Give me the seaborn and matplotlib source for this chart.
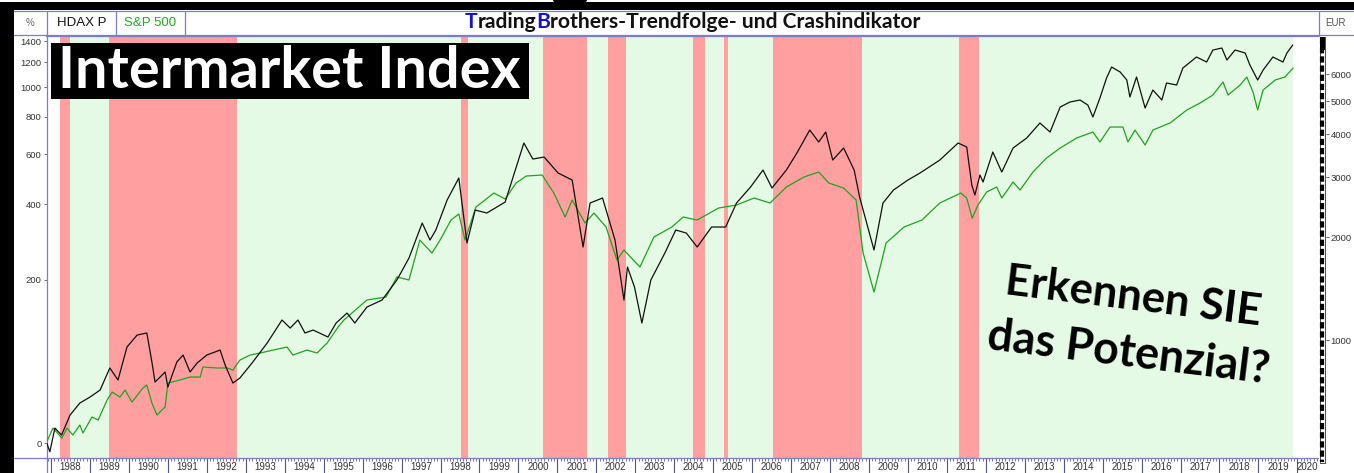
import numpy as np
import pandas as pd
import matplotlib
matplotlib.use("Agg")
import matplotlib.pyplot as plt
import seaborn as sns
from matplotlib.patches import Rectangle, Ellipse
from matplotlib.lines import Line2D
from matplotlib.ticker import FixedLocator, NullLocator, MultipleLocator, NullFormatter
from matplotlib import font_manager

# ---------------- data ----------------
hdax_year = [1987.89, 1987.97, 1988.10, 1988.27, 1988.49, 1988.74, 1989.00, 1989.26, 1989.51, 1989.72,
             1989.95, 1990.21, 1990.46, 1990.59, 1990.67, 1990.93, 1991.00, 1991.23, 1991.39, 1991.57,
             1991.75, 1992.00, 1992.34, 1992.47, 1992.67, 1992.85, 1993.16, 1993.55, 1993.93, 1994.14,
             1994.34, 1994.52, 1994.73, 1995.11, 1995.32, 1995.60, 1995.80, 1996.11, 1996.50, 1996.88,
             1997.19, 1997.53, 1997.73, 1997.88, 1998.17, 1998.47, 1998.68, 1998.89, 1999.19, 1999.66,
             2000.14, 2000.37, 2000.66, 2001.02, 2001.38, 2001.66, 2001.84, 2002.16, 2002.48, 2002.71,
             2002.80, 2002.98, 2003.17, 2003.40, 2003.76, 2004.04, 2004.31, 2004.59, 2004.96, 2005.32,
             2005.60, 2005.96, 2006.28, 2006.51, 2006.88, 2007.15, 2007.48, 2007.71, 2007.89, 2008.07,
             2008.35, 2008.62, 2008.76, 2008.90, 2009.13, 2009.36, 2009.63, 2010.00, 2010.31, 2010.82,
             2011.29, 2011.51, 2011.64, 2011.72, 2011.85, 2011.93, 2012.18, 2012.41, 2012.70, 2013.05,
             2013.39, 2013.65, 2013.91, 2014.16, 2014.42, 2014.62, 2014.75, 2014.93, 2015.10, 2015.23,
             2015.45, 2015.62, 2015.70, 2015.87, 2016.09, 2016.29, 2016.52, 2016.64, 2016.90, 2017.06,
             2017.41, 2017.67, 2017.83, 2018.06, 2018.19, 2018.40, 2018.66, 2018.78, 2018.98, 2019.12,
             2019.37, 2019.63, 2019.73, 2019.88]
hdax_pct = [0.0, -5.7, 10.6, 5.5, 20.8, 30.9, 36.3, 42.9, 65.8, 52.9,
            90.9, 107.0, 109.9, 72.6, 50.8, 61.4, 45.8, 72.6, 80.9, 61.4,
            71.4, 80.9, 87.1, 69.1, 49.8, 55.0, 71.4, 96.2, 129.1, 117.0,
            129.1, 109.9, 114.1, 104.3, 124.5, 140.1, 124.5, 150.0, 162.1, 199.9,
            247.8, 340.4, 292.7, 320.1, 414.2, 496.4, 284.9, 380.7, 371.1, 407.3,
            655.1, 577.8, 587.0, 516.8, 488.4, 274.6, 404.0, 421.2, 292.7, 162.1,
            227.4, 186.1, 124.5, 199.9, 259.8, 320.1, 311.7, 274.6, 328.7, 328.7,
            404.0, 461.3, 529.4, 457.5, 529.4, 605.9, 724.1, 660.2, 713.1, 573.3,
            630.0, 529.4, 424.7, 358.5, 267.1, 404.0, 450.1, 488.4, 516.8, 573.3,
            655.1, 634.9, 468.9, 431.8, 508.6, 480.6, 610.6, 521.0, 630.0, 680.9,
            764.0, 713.1, 862.3, 895.3, 908.8, 875.3, 799.7, 922.5, 1070.2, 1160.2,
            1118.2, 1054.5, 929.4, 1078.0, 855.9, 979.1, 908.8, 1031.4, 1016.2, 1151.6,
            1248.0, 1203.2, 1313.0, 1332.2, 1221.0, 1313.0, 1284.6, 1177.2, 1054.5, 1134.6,
            1248.0, 1203.2, 1284.6, 1361.4]

spx_year = [1987.89, 1988.05, 1988.28, 1988.41, 1988.56, 1988.74, 1988.82, 1989.05, 1989.21, 1989.44,
            1989.57, 1989.77, 1989.90, 1990.08, 1990.36, 1990.46, 1990.59, 1990.72, 1990.93, 1991.00,
            1991.31, 1991.57, 1991.83, 1991.90, 1992.26, 1992.52, 1992.67, 1992.85, 1993.11, 1993.37,
            1993.70, 1994.06, 1994.21, 1994.57, 1994.83, 1995.09, 1995.37, 1995.52, 1996.11, 1996.60,
            1996.88, 1997.19, 1997.47, 1997.78, 1997.99, 1998.27, 1998.47, 1998.63, 1998.91, 1999.37,
            1999.66, 1999.94, 2000.20, 2000.61, 2000.91, 2001.20, 2001.38, 2001.71, 2001.94, 2002.25,
            2002.53, 2002.71, 2003.12, 2003.48, 2003.94, 2004.23, 2004.59, 2005.14, 2005.60, 2006.05,
            2006.46, 2006.88, 2007.33, 2007.71, 2007.97, 2008.35, 2008.67, 2008.85, 2009.13, 2009.44,
            2009.90, 2010.36, 2010.82, 2011.36, 2011.51, 2011.65, 2011.80, 2012.02, 2012.28, 2012.41,
            2012.70, 2012.88, 2013.21, 2013.56, 2013.91, 2014.33, 2014.75, 2014.93, 2015.19, 2015.52,
            2015.65, 2015.83, 2016.09, 2016.29, 2016.73, 2017.16, 2017.50, 2017.83, 2018.09, 2018.22,
            2018.53, 2018.70, 2018.86, 2018.98, 2019.12, 2019.43, 2019.68, 2019.89]
spx_pct = [0.7, 10.6, 3.4, 10.6, 5.5, 12.9, 7.0, 19.1, 16.8, 33.6,
           41.0, 36.3, 42.9, 31.8, 44.9, 47.8, 30.9, 20.8, 27.5, 49.8,
           52.9, 56.0, 56.0, 66.9, 65.8, 65.8, 63.5, 74.9, 80.9, 83.4,
           87.1, 90.9, 80.9, 87.1, 83.4, 96.2, 118.5, 129.1, 162.1, 167.5,
           206.1, 199.9, 292.7, 259.8, 292.7, 349.4, 367.9, 292.7, 390.5, 439.0,
           417.7, 476.6, 504.5, 508.6, 439.0, 358.5, 414.2, 340.4, 371.1, 328.7,
           243.2, 267.1, 227.4, 300.8, 328.7, 358.5, 349.4, 387.2, 397.2, 421.2,
           404.0, 461.3, 500.4, 521.0, 476.6, 457.5, 414.2, 259.8, 176.6, 284.9,
           328.7, 349.4, 404.0, 439.0, 421.2, 355.0, 397.2, 442.6, 461.3, 421.2,
           480.6, 450.1, 521.0, 582.4, 630.0, 680.9, 713.1, 660.2, 741.0, 741.0,
           660.2, 724.1, 645.0, 724.1, 764.0, 843.0, 888.6, 943.3, 1039.0, 943.3,
           1016.2, 1078.0, 964.7, 843.0, 979.1, 1054.5, 1078.0, 1151.6]

# crash-indicator periods (red) and signal coverage (green)
crash_start = [1988.23, 1989.49, 1998.53, 2000.62, 2002.30, 2004.47, 2005.28, 2006.54, 2011.30]
crash_end = [1988.49, 1992.78, 1998.71, 2001.77, 2002.76, 2004.79, 2005.38, 2008.81, 2011.82]
signal_first, signal_last = 1988.23, 2019.89

pct_ticks = [0, 200, 400, 600, 800, 1000, 1200, 1400]
eur_ticks = [1000, 2000, 3000, 4000, 5000, 6000]
year_ticks = list(range(1988, 2021))
eur_per_point = 5.0   # HDAX EUR per index point (base 100 = 0 %)

# ---------------- style ----------------
sns.set_theme(style="white")
installed = {f.name for f in font_manager.fontManager.ttflist}
narrow = "Liberation Sans Narrow" in installed
base_family = ["Liberation Sans Narrow" if narrow else "Liberation Sans", "DejaVu Sans"]
plt.rcParams["font.family"] = base_family
tick_fs = 8.1 if narrow else 6.8
year_fs = 8.4 if narrow else 7.0
bold_family = ["Lato", "Open Sans", "DejaVu Sans"]

W, H = 1354, 473
fig = plt.figure(figsize=(W / 100, H / 100), dpi=100)
fig.patch.set_facecolor("white")

L, R, T, B = 46.5, 1318.0, 36.0, 458.0
ax = fig.add_axes([L / W, 1 - B / H, (R - L) / W, (B - T) / H])
ax.set_facecolor("white")

RED = "#ff9f9f"
GREEN = "#e5fae5"
PURPLE = "#7c7cc8"

ax.axvspan(signal_first, signal_last, color=GREEN, lw=0, zorder=0)
for s, e in zip(crash_start, crash_end):
    ax.axvspan(s, e, color=RED, lw=0, zorder=0.5)

df = pd.concat([
    pd.DataFrame({"year": spx_year, "pct": spx_pct, "series": "S&P 500"}),
    pd.DataFrame({"year": hdax_year, "pct": hdax_pct, "series": "HDAX P"}),
], ignore_index=True)
df["level"] = 100.0 + df["pct"]

sns.lineplot(data=df, x="year", y="level", hue="series", hue_order=["S&P 500", "HDAX P"],
             palette={"S&P 500": "#1ea51e", "HDAX P": "#101010"}, linewidth=0.9,
             estimator=None, legend=False, ax=ax, zorder=3)
ax.set_xlabel("")
ax.set_ylabel("")

ax.set_yscale("log")
xmin, xmax = 1987.884, 2020.529
ax.set_xlim(xmin, xmax)
ax.set_ylim(90.4, 1553.0)

ax.yaxis.set_major_locator(FixedLocator([100 + p for p in pct_ticks]))
ax.set_yticklabels([str(p) for p in pct_ticks])
ax.yaxis.set_minor_locator(NullLocator())
ax.tick_params(axis="y", which="major", left=True, length=2.5, width=0.6, pad=1.0,
               color="#555555", labelcolor="#333333", labelsize=tick_fs)

ax.xaxis.set_major_locator(FixedLocator(year_ticks))
ax.xaxis.set_major_formatter(NullFormatter())
ax.xaxis.set_minor_locator(MultipleLocator(1 / 12))
ax.tick_params(axis="x", which="major", bottom=True, direction="out", length=11, width=0.8,
               color="#55558f")
ax.tick_params(axis="x", which="minor", bottom=True, direction="out", length=2.2, width=0.5,
               color="#44446a")
for y in year_ticks:
    xc = y + 0.5 if y < 2020 else (2020 + xmax) / 2
    ax.text(xc, -0.022, str(y), transform=ax.get_xaxis_transform(), ha="center", va="center",
            fontsize=year_fs, color="#333333", clip_on=False)

for side in ["left", "top", "bottom"]:
    ax.spines[side].set_color(PURPLE)
    ax.spines[side].set_linewidth(0.9)
ax.spines["right"].set_visible(False)

sec = ax.secondary_yaxis(1 + 7.5 / (R - L),
                         functions=(lambda v: v * eur_per_point, lambda e: e / eur_per_point))
sec.yaxis.set_major_locator(FixedLocator(eur_ticks))
sec.set_yticklabels([str(e) for e in eur_ticks])
sec.yaxis.set_minor_locator(NullLocator())
sec.tick_params(axis="y", which="major", right=True, length=2, width=0.6, pad=1.5,
                color="#444444", labelcolor="#333333", labelsize=tick_fs)
for sp in sec.spines.values():
    sp.set_visible(False)

# ---------------- chrome overlay in pixel coordinates ----------------
ov = fig.add_axes([0, 0, 1, 1], zorder=10)
ov.set_xlim(0, W)
ov.set_ylim(H, 0)
ov.set_axis_off()

ov.add_patch(Rectangle((0, 2), W, 8.5, color="black", lw=0))
ov.add_patch(Rectangle((0, 2), 14, H, color="black", lw=0))
ov.add_patch(Ellipse((570, 0), 34, 11, color="black", lw=0))

ov.add_patch(Rectangle((14, 11), W - 14, 24.5, facecolor="white", lw=0))
for yy in (11, 35.5):
    ov.add_line(Line2D([14, W], [yy, yy], color=PURPLE, lw=0.9))
for xx in (47, 116, 185, 1318.5):
    ov.add_line(Line2D([xx, xx], [11, 36], color=PURPLE, lw=0.9))
ov.add_line(Line2D([46.5, 46.5], [458, H], color=PURPLE, lw=0.9))
ov.add_line(Line2D([14, 46.5], [458, 458], color=PURPLE, lw=0.9))

ov.text(30, 23.5, "%", ha="center", va="center", fontsize=7, color="#666666")
ov.text(81.5, 23.5, "HDAX P", ha="center", va="center", fontsize=9.5, color="#111111",
        family=["Liberation Sans", "DejaVu Sans"])
ov.text(150.5, 23.5, "S&P 500", ha="center", va="center", fontsize=9.5, color="#22aa22",
        family=["Liberation Sans", "DejaVu Sans"])
ov.text(1336, 23.5, "EUR", ha="center", va="center", fontsize=7, color="#555555")

# right dashed axis band
ov.add_patch(Rectangle((1319.5, 37), 5.5, 426, facecolor="white", edgecolor="black", lw=0.5))
ov.add_line(Line2D([1322.25, 1322.25], [38, 462], color="black", lw=3.0, dashes=(1.5, 0.7)))
ov.add_patch(Rectangle((1319.5, 37), 5.5, 13, color="black", lw=0))

renderer = fig.canvas.get_renderer()


def wpx(t):
    return t.get_window_extent(renderer=renderer).width


def fit(t, target):
    t.set_fontsize(t.get_fontsize() * target / wpx(t))


# title with coloured initials
parts = [("T", "#1515cc"), ("rading", "#111111"), ("B", "#1515cc"),
         ("rothers-Trendfolge- und Crashindikator", "#111111")]
probe = ov.text(0, 0, "".join(p for p, _ in parts), fontsize=12, family=bold_family, weight="bold")
title_fs = 12 * 454 / wpx(probe)
probe.remove()
xcur = 465
for piece, col in parts:
    t = ov.text(xcur, 28, piece, fontsize=title_fs, family=bold_family, weight="bold",
                color=col, ha="left", va="baseline")
    xcur += wpx(t)

# "Intermarket Index" label
ov.add_patch(Rectangle((50.5, 43), 478.5, 56, color="black", lw=0))
tb = ov.text(58, 88, "Intermarket Index", color="white", family=bold_family, weight="bold",
             fontsize=36, ha="left", va="baseline")
fit(tb, 462)

# slanted call-out
for txt, cx, cy, wd in [("Erkennen SIE", 1133, 297, 258), ("das Potenzial?", 1129, 353, 284)]:
    tt = ov.text(cx, cy, txt, color="black", family=bold_family, weight="bold", fontsize=28,
                 ha="center", va="center")
    fit(tt, wd)
    tt.set_rotation(-7)
    tt.set_rotation_mode("anchor")

fig.savefig("out.png", dpi=100)
